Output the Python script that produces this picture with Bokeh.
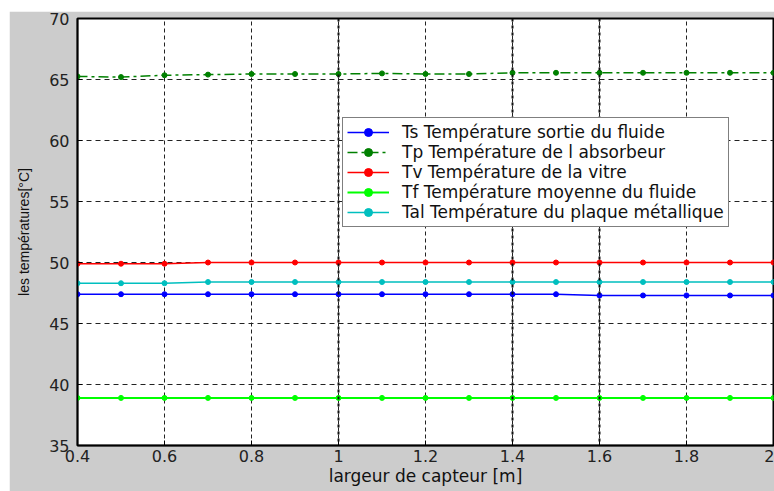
from bokeh.plotting import figure
from bokeh.models import Range1d, Span, FixedTicker, Legend
from bokeh.embed import file_html
from bokeh.resources import INLINE

# collector width [m]
largeur = [0.4, 0.5, 0.6, 0.7, 0.8, 0.9, 1.0, 1.1, 1.2, 1.3, 1.4, 1.5, 1.6, 1.7, 1.8, 1.9, 2.0]

# temperatures [°C]
Ts = [47.4, 47.4, 47.4, 47.4, 47.4, 47.4, 47.4, 47.4, 47.4, 47.4, 47.4, 47.4, 47.3, 47.3, 47.3, 47.3, 47.3]
Tp = [65.25, 65.2, 65.35, 65.4, 65.45, 65.45, 65.45, 65.5, 65.45, 65.45, 65.55, 65.55, 65.55, 65.55, 65.55, 65.55, 65.55]
Tv = [49.9, 49.9, 49.9, 50.0, 50.0, 50.0, 50.0, 50.0, 50.0, 50.0, 50.0, 50.0, 50.0, 50.0, 50.0, 50.0, 50.0]
Tf = [38.9, 38.9, 38.9, 38.9, 38.9, 38.9, 38.9, 38.9, 38.9, 38.9, 38.9, 38.9, 38.9, 38.9, 38.9, 38.9, 38.9]
Tal = [48.3, 48.3, 48.3, 48.4, 48.4, 48.4, 48.4, 48.4, 48.4, 48.4, 48.4, 48.4, 48.4, 48.4, 48.4, 48.4, 48.4]

x_ticks = [0.4, 0.6, 0.8, 1.0, 1.2, 1.4, 1.6, 1.8, 2.0]
x_tick_labels = {0.4: "0.4", 0.6: "0.6", 0.8: "0.8", 1.0: "1", 1.2: "1.2", 1.4: "1.4", 1.6: "1.6", 1.8: "1.8", 2.0: "2"}
y_ticks = [35, 40, 45, 50, 55, 60, 65, 70]
heavy_grid_x = [1.0, 1.4, 1.6]

series = [
    ("Ts Température sortie du fluide", Ts, "#0000ff", "solid", 1.5),
    ("Tp Température de l absorbeur", Tp, "#008000", "10 4 3 4", 1.5),
    ("Tv Température de la vitre", Tv, "#ff0000", "solid", 1.5),
    ("Tf Température moyenne du fluide", Tf, "#00ff00", "solid", 2),
    ("Tal Température du plaque métallique", Tal, "#00bfbf", "solid", 1.5),
]

p = figure(width=765, height=480, output_backend="svg", toolbar_location=None,
           x_range=Range1d(0.4, 2.0), y_range=Range1d(35, 70),
           min_border_left=68, min_border_right=1, min_border_top=7, min_border_bottom=46)
p.margin = (11, 0, 0, 9)
p.border_fill_color = "#cccccc"
p.background_fill_color = "white"
p.outline_line_color = "black"
p.outline_line_width = 2

# axes
p.xaxis.ticker = FixedTicker(ticks=x_ticks)
p.xaxis.major_label_overrides = x_tick_labels
p.yaxis.ticker = FixedTicker(ticks=y_ticks)
for ax in (p.xaxis[0], p.yaxis[0]):
    ax.axis_line_color = "black"
    ax.axis_line_width = 1.5
    ax.major_tick_in = 5
    ax.major_tick_out = 0
    ax.minor_tick_line_color = None
    ax.major_tick_line_color = "black"
    ax.major_label_text_font = "DejaVu Sans"
    ax.major_label_text_font_size = "16px"
    ax.major_label_text_color = "#222222"
    ax.axis_label_text_font_style = "normal"
    ax.axis_label_text_color = "#111111"

p.xaxis.major_label_standoff = 4
p.xaxis.axis_label = "largeur de capteur [m]"
p.xaxis.axis_label_text_font = "DejaVu Sans"
p.xaxis.axis_label_text_font_size = "17px"
p.xaxis.axis_label_standoff = 1

p.yaxis.major_label_standoff = 8
p.yaxis.axis_label = "les températures[°C]"
p.yaxis.axis_label_text_font = "Liberation Sans"
p.yaxis.axis_label_text_font_size = "14px"
p.yaxis.axis_label_standoff = 14

# dashed grid
p.xgrid.grid_line_color = "#222222"
p.xgrid.grid_line_dash = "4 3"
p.xgrid.grid_line_width = 1
p.ygrid.grid_line_color = "#222222"
p.ygrid.grid_line_dash = "5 4"
p.ygrid.grid_line_width = 1
for xv in heavy_grid_x:
    p.add_layout(Span(location=xv, dimension="height", line_color="#111111",
                      line_width=2, line_dash="3 4"))

legend = Legend(items=[], location=(265, 218))
p.add_layout(legend)

for name, ys, color, dash, lw in series:
    p.line(largeur, ys, line_color=color, line_dash=dash, line_width=lw, legend_label=name)
    p.scatter(largeur, ys, marker="circle", size=5, fill_color=color, line_color=color,
              legend_label=name)

legend.location = (265, 218)
legend.border_line_color = "black"
legend.border_line_width = 1
legend.background_fill_color = "white"
legend.background_fill_alpha = 1
legend.label_text_font = "DejaVu Sans"
legend.label_text_font_size = "17px"
legend.label_text_color = "#111111"
legend.glyph_width = 42
legend.glyph_height = 20
legend.label_height = 20
legend.label_standoff = 13
legend.spacing = 0
legend.padding = 4
legend.margin = 0

open("out.html", "w").write(file_html(p, INLINE))
